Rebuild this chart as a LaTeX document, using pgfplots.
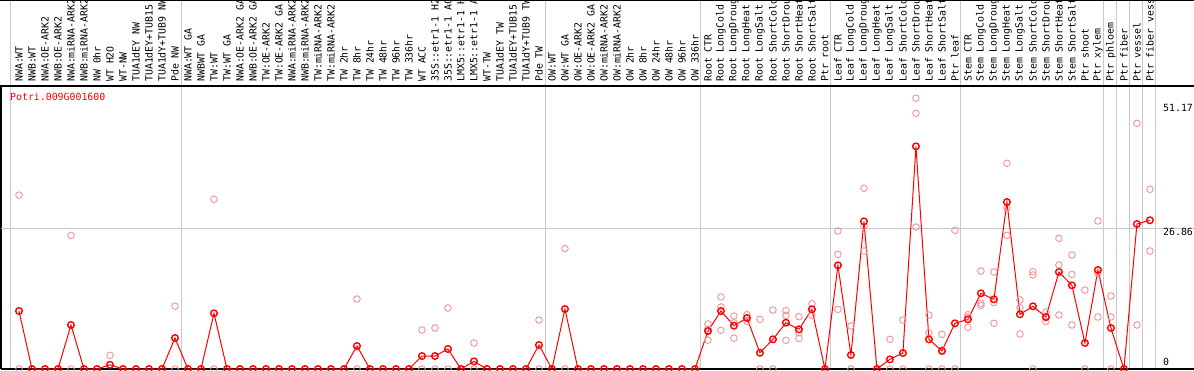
\documentclass[border=0pt]{standalone}
\usepackage{pgfplots}
\usepackage{pgfplotstable}
\pgfplotsset{compat=1.18}
\usepackage{fontspec}
\newfontfamily\monof{DejaVu Sans Mono}
\definecolor{rep}{RGB}{238,150,150}
\definecolor{sep}{RGB}{200,200,200}
\newcommand{\labfont}{\monof\fontsize{9.87}{10}\selectfont}

\pgfplotstableread{
x y
0 33.2
0 0
4 25.5
4 0
7 2.6
12 12.0
12 0
15 32.4
15 0
26 13.36
26 0
31 7.45
31 0
32 7.83
32 0
33 11.65
33 0
35 4.96
35 0
40 9.35
40 0
42 23.0
42 0
53 8.6
53 7.6
53 5.5
54 13.75
54 11.84
54 7.38
55 10.1
55 8.8
55 5.9
56 10.37
56 9.74
56 9.1
57 9.48
57 0
58 11.26
58 5.7
58 0
59 11.13
59 10.24
59 5.47
60 9.99
60 6.94
60 5.85
61 12.47
61 11.5
61 10.24
63 26.35
63 21.89
63 11.39
64 8.21
64 0
65 34.5
65 27.3
65 22.53
67 5.66
67 0
68 9.35
68 0
69 51.7
69 48.8
69 27.1
70 10.3
70 6.94
70 0
71 6.62
71 3.6
71 0
72 26.48
72 0
73 10.37
73 9.9
73 7.96
74 18.71
74 12.54
74 12.1
75 18.52
75 12.66
75 8.72
76 39.27
76 30.74
76 25.52
77 13.17
77 11.7
77 6.68
78 18.58
78 17.95
78 0
79 10.88
79 9.8
79 9.1
80 24.95
80 19.85
80 10.31
81 21.76
81 18.07
81 8.4
82 15.08
82 0
83 28.26
83 18.26
83 9.93
84 13.94
84 9.93
84 0
86 46.9
86 8.4
87 34.3
87 22.53
}\reps

\pgfplotstableread{
x y
0 11.07
1 0
2 0
3 0
4 8.4
5 0
6 0
7 0.8
8 0
9 0
10 0
11 0
12 5.92
13 0
14 0
15 10.63
16 0
17 0
18 0
19 0
20 0
21 0
22 0
23 0
24 0
25 0
26 4.39
27 0
28 0
29 0
30 0
31 2.48
32 2.48
33 3.82
34 0
35 1.46
36 0
37 0
38 0
39 0
40 4.58
41 0
42 11.45
43 0
44 0
45 0
46 0
47 0
48 0
49 0
50 0
51 0
52 0
53 7.25
54 11.07
55 8.27
56 9.74
57 3.1
58 5.66
59 8.84
60 7.57
61 11.39
62 0
63 19.79
64 2.67
65 28.19
66 0
67 1.84
68 3.05
69 42.5
70 5.66
71 3.44
72 8.72
73 9.48
74 14.45
75 13.3
76 31.88
77 10.44
78 11.97
79 9.93
80 18.52
81 15.97
82 4.96
83 18.9
84 7.83
85 0
86 27.68
87 28.39
}\means

\begin{document}
\begin{tikzpicture}
\useasboundingbox (0pt,0pt) rectangle (1194pt,370pt);
% group separators
\foreach \xx in {10,181,545,700,830,960,1103,1116,1129,1142,1155}
  \draw[sep, line width=1pt] (\xx pt,1pt) -- (\xx pt,370pt);
% frame lines
\draw[black, line width=1.3pt] (0pt,284pt) -- (1194pt,284pt);
\draw[black, line width=1.3pt] (1pt,1pt) -- (1194pt,1pt);
\draw[black, line width=1.3pt] (1pt,1pt) -- (1pt,284pt);
\draw[black, line width=1pt] (0pt,369.5pt) -- (1194pt,369.5pt);
\begin{axis}[
  at={(1pt,1pt)}, anchor=south west,
  scale only axis, width=1193pt, height=283pt,
  xmin=-1.384615, xmax=90.384615, ymin=0, ymax=54.03,
  clip=false,
  axis line style={draw=none},
  xtick={0,...,87},
  xticklabels={NWA:WT, NWB:WT, NWA:OE-ARK2, NWB:OE-ARK2, NWA:miRNA-ARK2, NWB:miRNA-ARK2, NW 0hr, WT H2O, WT-NW, TUA1dEY NW, TUA1dEY+TUB15, TUA1dY+TUB9 NW, Pde NW, NWA:WT GA, NWBWT GA, TW:WT, TW:WT GA, NWA:OE-ARK2 GA, NWB:OE-ARK2 GA, TW:OE-ARK2, TW:OE-ARK2 GA, NWA:miRNA-ARK2, NWB:miRNA-ARK2, TW:miRNA-ARK2, TW:miRNA-ARK2, TW 2hr, TW 8hr, TW 24hr, TW 48hr, TW 96hr, TW 336hr, WT ACC, 35S::etr1-1 H2, 35S::etr1-1 AC, LMX5::etr1-1 H, LMX5::etr1-1 A, WT-TW, TUA1dEY TW, TUA1dEY+TUB15, TUA1dY+TUB9 TW, Pde TW, OW:WT, OW:WT GA, OW:OE-ARK2, OW:OE-ARK2 GA, OW:miRNA-ARK2, OW:miRNA-ARK2, OW 2hr, OW 8hr, OW 24hr, OW 48hr, OW 96hr, OW 336hr, Root CTR, Root LongCold, Root LongDroug, Root LongHeat, Root LongSalt, Root ShortCold, Root ShortDrou, Root ShortHeat, Root ShortSalt, Ptr root, Leaf CTR, Leaf LongCold, Leaf LongDroug, Leaf LongHeat, Leaf LongSalt, Leaf ShortCold, Leaf ShortDrou, Leaf ShortHeat, Leaf ShortSalt, Ptr leaf, Stem CTR, Stem LongCold, Stem LongDroug, Stem LongHeat, Stem LongSalt, Stem ShortCold, Stem ShortDrou, Stem ShortHeat, Stem ShortSalt, Ptr shoot, Ptr xylem, Ptr phloem, Ptr fiber, Ptr vessel, Ptr fiber vess},
  xticklabel pos=right,
  xticklabel style={rotate=90, anchor=west, font=\labfont, inner sep=0pt},
  xticklabel shift=4pt,
  major tick length=0pt,
  ytick={26.86}, yticklabels={},
  ymajorgrids, major grid style={sep, line width=1pt},
]
\addplot[only marks, mark=o, mark size=3.3pt, rep, mark options={line width=0.9pt}] table[x=x,y=y] {\reps};
\addplot[red, line width=1pt, mark=o, mark size=3.3pt, mark options={line width=1.4pt}] table[x=x,y=y] {\means};
\end{axis}
\node[anchor=west, inner sep=0pt, text=red, font=\labfont] at (10pt,273.3pt) {Potri.009G001600};
\node[anchor=west, inner sep=0pt, font=\labfont] at (1163pt,262.3pt) {51.17};
\node[anchor=west, inner sep=0pt, font=\labfont] at (1163pt,138.3pt) {26.86};
\node[anchor=west, inner sep=0pt, font=\labfont] at (1163pt,8pt) {0};
\end{tikzpicture}
\end{document}
